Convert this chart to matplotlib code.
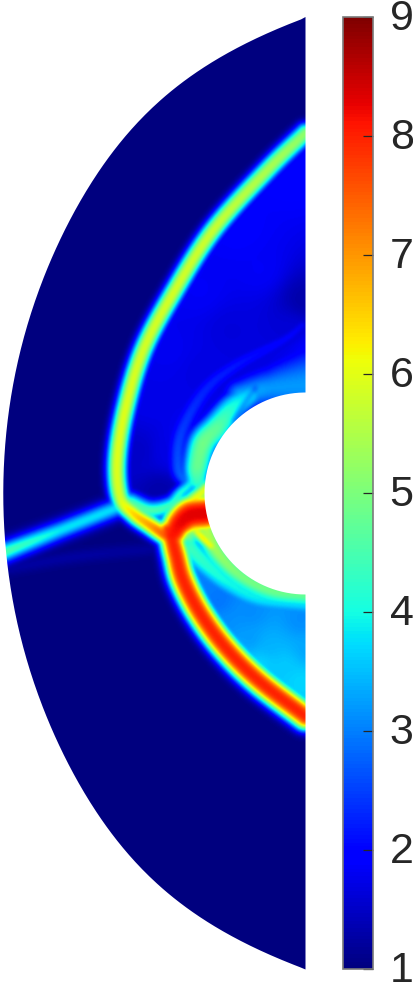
import numpy as np
import matplotlib
matplotlib.use("Agg")
import matplotlib.pyplot as plt
from matplotlib.path import Path
from matplotlib.patches import PathPatch
from matplotlib.transforms import ScaledTranslation

plt.rcParams['font.family'] = ['Liberation Sans', 'DejaVu Sans']

# ---- values (pixel frame of the reference) ----
outer_x = [305.5, 267, 233, 200, 167, 133, 100, 67, 43, 23, 10, 3.5, 2.5]
outer_y = [18, 33, 50, 70, 95, 128, 170, 223, 280, 343, 410, 467, 493]
cyl_cx, cyl_cy, cyl_r = 305.5, 493.5, 101.0

upper_shock_x = [305, 267, 213, 173, 143, 125, 117, 120, 133, 150, 165]
upper_shock_y = [133, 170, 230, 293, 350, 410, 460, 497, 513, 525, 535]
upper_shock_a = [5.2, 5.5, 5.8, 5.9, 5.9, 6.0, 6.0, 5.9, 6.5, 7.0, 7.6]
upper_shock_w = [10, 10, 10, 10, 10, 10, 10, 10, 10, 10, 10]

lower_shock_x = [168, 172, 176, 183, 200, 225, 258, 305]
lower_shock_y = [530, 540, 555, 580, 613, 647, 680, 716]
lower_shock_a = [7.9, 8.0, 8.0, 8.0, 8.0, 8.0, 8.0, 8.0]
lower_shock_w = [12, 13, 13.5, 14, 14, 14, 14, 14]

stem_x = [4, 60, 113, 122]
stem_y = [552, 530, 509, 505]
stem_a = [4.6, 3.9, 3.8, 3.8]
stem_w = [10, 9.5, 9.5, 9.5]

streak_x = [10, 80, 160]
streak_y = [568, 556, 548]
streak_a = [1.25, 1.25, 1.2]
streak_w = [7, 7, 7]

core_x = [172, 180, 190, 205]
core_y = [535, 523, 515, 513]
core_a = [8.1, 8.25, 8.3, 8.3]
core_w = [15, 18, 20, 20]

throat_x = [130, 150, 170, 180, 190, 188]
throat_y = [502, 510, 505, 493, 483, 473]
throat_a = [4.6, 4.6, 4.4, 4.2, 4.0, 3.6]
throat_w = [10, 10, 9, 7, 7, 6]

top_jet_x = [170, 180, 195, 206]
top_jet_y = [516, 508, 498, 488]
top_jet_a = [5.2, 5.8, 6.2, 6.0]
top_jet_w = [8, 9, 10, 9]

inner_lobe_x = [197, 197, 203, 217, 233, 250]
inner_lobe_y = [480, 467, 443, 427, 407, 395]
inner_lobe_a = [4.4, 4.8, 4.9, 4.7, 4.1, 3.7]
inner_lobe_w = [13, 15, 16, 16, 15, 13]

cap_x = [240, 270, 305]
cap_y = [395, 388, 385]
cap_a = [3.4, 3.2, 3.2]
cap_w = [16, 22, 38]

outer_lobe_x = [186, 178, 181, 203, 233, 283, 302]
outer_lobe_y = [482, 467, 433, 393, 367, 340, 325]
outer_lobe_a = [2.9, 2.7, 2.5, 2.3, 2.2, 1.95, 1.85]
outer_lobe_w = [8, 10, 11, 11, 9, 7, 6]

dark_x = [255, 244, 233]
dark_y = [388, 403, 420]
dark_a = [1.5, 1.6, 1.5]
dark_w = [2.5, 2.5, 2.5]

wall_x = [206, 218, 240, 270, 305]
wall_y = [530, 553, 575, 590, 595]
wall_a = [5.6, 5.3, 5.0, 4.9, 4.8]
wall_w = [15, 15, 15, 15, 15]

wall2_x = [190, 208, 228, 258, 305]
wall2_y = [548, 566, 582, 597, 603]
wall2_a = [4.4, 4.2, 4.0, 3.9, 3.8]
wall2_w = [16, 16, 16, 16, 16]

patch_x = [196, 203, 211]
patch_y = [531, 538, 546]
patch_a = [6.3, 6.4, 6.2]
patch_w = [7, 7, 7]

upper_px = [290, 240, 200, 260, 170, 230, 150, 200, 140, 160, 303, 290, 305, 185, 165]
upper_py = [170, 230, 290, 270, 350, 330, 400, 370, 450, 490, 300, 330, 350, 450, 450]
upper_pv = [1.95, 1.9, 1.85, 1.85, 1.8, 1.65, 1.75, 1.7, 1.5, 1.3, 1.3, 1.6, 1.9, 2.0, 1.7]

lower_px = [205, 217, 250, 300, 267, 300, 215, 235, 305, 285, 250, 260, 225]
lower_py = [590, 600, 613, 620, 647, 680, 640, 660, 650, 665, 640, 662, 625]
lower_pv = [3.0, 2.9, 3.1, 3.1, 3.4, 3.7, 3.3, 3.6, 3.3, 3.6, 3.2, 3.7, 3.1]

hole_x, hole_y, hole_r, hole_v = 190, 537, 5.0, 4.9

tick_values = [1, 2, 3, 4, 5, 6, 7, 8, 9]
vmin, vmax = 1, 9


# ---- helpers ----
def smooth(x, y, *extra, n=24):
    x, y = np.asarray(x, float), np.asarray(y, float)
    px = np.r_[2*x[0]-x[1], x, 2*x[-1]-x[-2]]
    py = np.r_[2*y[0]-y[1], y, 2*y[-1]-y[-2]]
    ox, oy = [], []
    for i in range(1, len(px)-2):
        t = np.linspace(0, 1, n, endpoint=False)
        for p, o in ((px, ox), (py, oy)):
            o.append(0.5*(2*p[i] + (p[i+1]-p[i-1])*t
                          + (2*p[i-1]-5*p[i]+4*p[i+1]-p[i+2])*t**2
                          + (3*p[i]-p[i-1]-3*p[i+1]+p[i+2])*t**3))
    ox = np.r_[np.concatenate(ox), x[-1]]
    oy = np.r_[np.concatenate(oy), y[-1]]
    s = np.linspace(0, len(x)-1, len(ox))
    return (ox, oy) + tuple(np.interp(s, np.arange(len(x)), e) for e in extra)


gx, gy = np.meshgrid(np.arange(0, 312.0), np.arange(0, 988.0))


def ridge(x, y, a, w, p=2.0):
    sx, sy, sa, sw = smooth(x, y, a, w)
    best = np.full(gx.shape, np.inf)
    idx = np.zeros(gx.shape, int)
    for i, (px, py) in enumerate(zip(sx, sy)):
        d = (gx-px)**2 + (gy-py)**2
        m = d < best
        best[m] = d[m]
        idx[m] = i
    return 1 + (sa[idx]-1)*np.exp(-(np.sqrt(best)/sw[idx])**p)


def idw(px, py, pv):
    px, py, pv = map(lambda v: np.asarray(v, float), (px, py, pv))
    num = np.zeros(gx.shape)
    den = np.zeros(gx.shape)
    for a, b, c in zip(px, py, pv):
        wt = 1/(((gx-a)**2 + (gy-b)**2 + 100)**1.5)
        num += wt*c
        den += wt
    return num/den


def blur(v, k=2):
    for axis in (0, 1):
        v = sum(np.roll(v, s, axis=axis) for s in range(-k, k+1))/(2*k+1)
    return v


# ---- field ----
V = np.ones(gx.shape)
pts = np.c_[gx.ravel(), gy.ravel()]
ux, uy = smooth(upper_shock_x, upper_shock_y)
lx, ly = smooth(lower_shock_x, lower_shock_y)
up_poly = Path(np.c_[np.r_[ux, 205, 320, 320], np.r_[uy, 510, 500, 133]])
lo_poly = Path(np.c_[np.r_[lx, 320, 320, 205], np.r_[ly, 716, 500, 510]])
um = up_poly.contains_points(pts).reshape(gx.shape)
lm = lo_poly.contains_points(pts).reshape(gx.shape)
V[um] = idw(upper_px, upper_py, upper_pv)[um]
V[lm] = idw(lower_px, lower_py, lower_pv)[lm]

V = np.maximum(V, ridge(streak_x, streak_y, streak_a, streak_w))
V = np.maximum(V, ridge(outer_lobe_x, outer_lobe_y, outer_lobe_a, outer_lobe_w))
V = np.maximum(V, ridge(cap_x, cap_y, cap_a, cap_w))
V = np.maximum(V, ridge(inner_lobe_x, inner_lobe_y, inner_lobe_a, inner_lobe_w, 2.6))
V = V - (ridge(dark_x, dark_y, dark_a, dark_w) - 1)
V = np.maximum(V, ridge(wall2_x, wall2_y, wall2_a, wall2_w))
V = np.maximum(V, ridge(wall_x, wall_y, wall_a, wall_w))
V = np.maximum(V, ridge(throat_x, throat_y, throat_a, throat_w))
V = np.maximum(V, ridge(stem_x, stem_y, stem_a, stem_w))
V = np.maximum(V, ridge(upper_shock_x, upper_shock_y, upper_shock_a, upper_shock_w, 2.5))
V = np.maximum(V, ridge(top_jet_x, top_jet_y, top_jet_a, top_jet_w))
V = np.maximum(V, ridge(lower_shock_x, lower_shock_y, lower_shock_a, lower_shock_w, 2.8))
V = np.maximum(V, ridge(patch_x, patch_y, patch_a, patch_w))
V = np.maximum(V, ridge(core_x, core_y, core_a, core_w, 3.3))
h = np.exp(-((gx-hole_x)**2 + (gy-hole_y)**2)/hole_r**2)
V = V + (hole_v - V)*h
# the yellow patch sits over the foot of the core
h2 = np.exp(-((gx-patch_x[1])**2 + (gy-patch_y[1])**2)/49.0)
V = V + (patch_a[1] - V)*h2*(V > patch_a[1])
V = blur(V, 2)

# ---- figure ----
fig = plt.figure(figsize=(4.14, 9.88), dpi=100)
ax = fig.add_axes([0, 0, 1, 1])
im = ax.imshow(V, cmap='jet', vmin=vmin, vmax=vmax, origin='upper',
               extent=(-0.5, 311.5, 987.5, -0.5), interpolation='bilinear', aspect='auto')
ax.set_xlim(0, 414)
ax.set_ylim(988, 0)
ax.axis('off')

# outline: fitted smooth curve through the points read, mirrored about the axis
ou = ((np.asarray(outer_y, float) - cyl_cy)/476.0)**2
coef = np.polyfit(ou, outer_x, 4)
oy = np.linspace(17, 969.5, 400)
ox = np.minimum(np.polyval(coef, ((oy - cyl_cy)/476.0)**2), 305.5)
th = np.linspace(np.pi/2, 3*np.pi/2, 200)
bx = np.r_[ox, 305.5, cyl_cx + cyl_r*np.cos(th)[::-1]]
by = np.r_[oy, 969.5, cyl_cy - cyl_r*np.sin(th)[::-1]]
clip = PathPatch(Path(np.c_[bx, by]), transform=ax.transData, fc='none', ec='none')
ax.add_patch(clip)
im.set_clip_path(clip)

cax = fig.add_axes([343/414, 1-969/988, 30/414, 952/988])
cb = fig.colorbar(im, cax=cax)
cb.set_ticks(tick_values)
cb.set_ticklabels([str(t) for t in tick_values])
cax.tick_params(axis='y', direction='in', length=7.2, width=0.9, color='#262626',
                labelsize=31, labelcolor='#262626', pad=12, right=True, left=False)
cb.outline.set_edgecolor('#7a7a7a')
cb.outline.set_linewidth(1.2)
off = ScaledTranslation(0, -2/100, fig.dpi_scale_trans)
for lab in cax.get_yticklabels():
    lab.set_va('center')
    lab.set_transform(lab.get_transform() + off)

fig.savefig('out.png', dpi=100)
